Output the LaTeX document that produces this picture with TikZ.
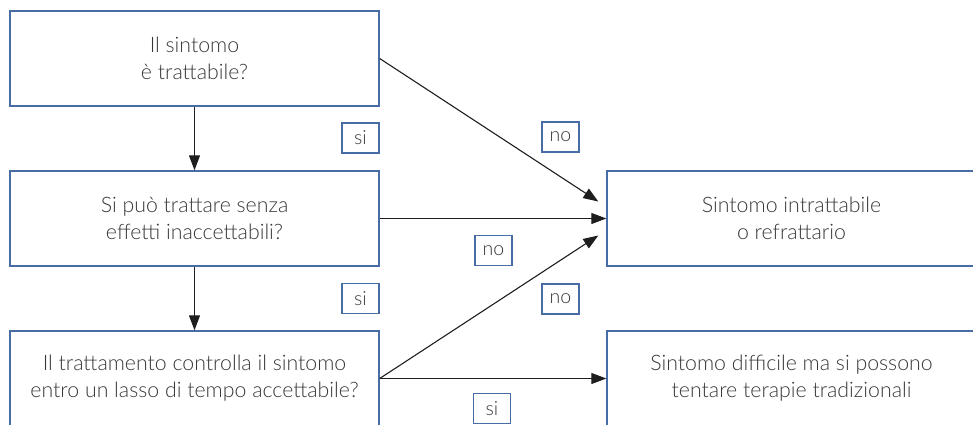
\documentclass[tikz,border=0pt]{standalone}
\usepackage{fontspec}
\setmainfont{Lato Light}
\usetikzlibrary{arrows.meta,calc}
\definecolor{boxblue}{RGB}{72,108,164}
\definecolor{txtgray}{RGB}{55,55,55}
\definecolor{arrgray}{RGB}{30,30,30}
\tikzset{
  qbox/.style={draw=boxblue, line width=1.4pt, minimum width=369pt, minimum height=95pt,
    align=center, text=txtgray, font=\fontsize{21.3}{27}\selectfont, inner sep=0pt},
  lbl/.style={draw=boxblue, line width=1.3pt, minimum width=37pt, minimum height=30pt,
    inner sep=0pt, text=txtgray, font=\fontsize{19.5}{22}\selectfont},
  conn/.style={draw=arrgray, line width=1.1pt, -{Triangle[length=15pt,width=11pt]}}
}
\begin{document}
\begin{tikzpicture}[x=1pt,y=-1pt]
\useasboundingbox (0,0) rectangle (973,424);
\clip (0,0) rectangle (973,424);
\node[qbox] (A) at (194.5,58.5) {Il sintomo\\è trattabile?};
\node[qbox] (B) at (194.5,218.5) {Si può trattare senza\\effetti inaccettabili?};
\node[qbox] (C) at (194.5,378.5) {Il trattamento controlla il sintomo\\entro un lasso di tempo accettabile?};
\node[qbox] (D) at (791.5,218.5) {Sintomo intrattabile\\o refrattario};
\node[qbox] (E) at (791.5,378.5) {Sintomo difficile ma si possono\\tentare terapie tradizionali};
\coordinate (Dup) at ($(D.west)+(-8,-17)$);
\coordinate (Ddn) at ($(D.west)+(-8,17)$);
\draw[conn] (A.south) -- (B.north);
\draw[conn] (B.south) -- (C.north);
\draw[conn] (A.east) -- (Dup);
\draw[conn] (B.east) -- (D.west);
\draw[conn] (C.east) -- (Ddn);
\draw[conn] (C.east) -- (E.west);
\node[lbl] (s1) at (360.5,138) {si};
\node[lbl] (n1) at (560.5,137) {no};
\node[lbl] (n2) at (493.5,250.5) {no};
\node[lbl] (s2) at (360.5,298.5) {si};
\node[lbl] (n3) at (560.5,299) {no};
\node[lbl] (s3) at (492,408.5) {si};
\end{tikzpicture}
\end{document}
